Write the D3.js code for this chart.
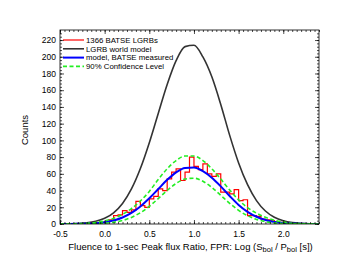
<!DOCTYPE html>
<html>
<head>
<meta charset="utf-8">
<script src="https://cdn.jsdelivr.net/npm/d3@7"></script>
<style>
  body { margin: 0; background: #fff; }
  svg { display: block; font-family: "Liberation Sans", Arial, sans-serif; }
</style>
</head>
<body>
<svg id="chart" width="341" height="264"></svg>
<script>
// DATA

var xGrid = [-0.5, -0.4, -0.3, -0.2, -0.1, 0.0, 0.1, 0.2, 0.3, 0.4, 0.5, 0.6, 0.7, 0.8, 0.9,
	1.0, 1.1, 1.2, 1.3, 1.4, 1.5, 1.6, 1.7, 1.8, 1.9, 2.0, 2.1, 2.2, 2.3, 2.4];

var worldModel = [0.1, 0.2, 0.6, 1.4, 3.2, 6.8, 13.4, 24.6, 41.9, 66.3, 97.2, 132.2, 166.8, 195.3, 212.1,
	213.7, 199.8, 176, 143, 106, 73, 47, 28, 15.5, 8, 3.8, 1.6, 0.7, 0.25, 0.1];

var batseModel = [0.02, 0.06, 0.18, 0.44, 1.0, 2.2, 4.2, 7.8, 13.3, 21, 30.7, 41.8, 52.8, 61.8, 67.1,
	67.6, 63.2, 55.3, 45, 33.5, 22.8, 14.6, 8.7, 4.8, 2.5, 1.2, 0.5, 0.2, 0.08, 0.03];

var confUpper = [0.06, 0.15, 0.37, 0.85, 1.8, 3.6, 6.7, 11.5, 18.5, 27.5, 39, 53.2, 66, 75.9, 81.3,
	81.3, 75.9, 66, 53.7, 40.7, 28.8, 19.5, 13, 8, 4.5, 2.2, 0.9, 0.37, 0.15, 0.06];

var confLower = [0, 0.02, 0.05, 0.15, 0.4, 0.9, 2.1, 4.2, 7.9, 13.5, 21.1, 30.4, 40.1, 48.5, 53.8,
	54.8, 51.1, 43.7, 34.3, 24.7, 16.3, 9.9, 5.5, 2.8, 1.3, 0.6, 0.2, 0.1, 0.03, 0.01];

var binLeft = [-0.20, -0.15, -0.10, -0.05, 0.00, 0.05, 0.10, 0.15, 0.20, 0.25, 0.30, 0.35, 0.40, 0.45,
	0.50, 0.55, 0.60, 0.65, 0.70, 0.75, 0.80, 0.85, 0.90, 0.95, 1.00, 1.05, 1.10, 1.15, 1.20, 1.25,
	1.30, 1.35, 1.40, 1.45, 1.50, 1.55, 1.60, 1.65, 1.70, 1.75, 1.80, 1.85, 1.90, 1.95, 2.00, 2.05];
var binCounts = [0, 1, 1, 2, 3, 5, 10, 11, 16, 14, 17, 27, 22, 20,
	30, 33, 42, 40, 54, 62, 66, 52, 62, 80, 69, 65, 72, 60, 57, 60,
	38, 38, 36, 41, 28, 29, 10, 10, 9, 6, 5, 4, 3, 2, 1, 0];
var binWidth = 0.05;

var xTicks = [-0.5, 0.0, 0.5, 1.0, 1.5, 2.0];
var yTicks = [0, 20, 40, 60, 80, 100, 120, 140, 160, 180, 200, 220];

var legendLabels = ["1366 BATSE LGRBs", "LGRB world model", "model, BATSE measured", "90% Confidence Level"];

// LAYOUT

var svg = d3.select('#chart');
var margin = {left: 60, right: 22, top: 30, bottom: 40};
var width = 341 - margin.left - margin.right;
var height = 264 - margin.top - margin.bottom;

var x = d3.scaleLinear().domain([-0.5, 2.4]).range([0, width]);
var y = d3.scaleLinear().domain([0, 232]).range([height, 0]);

var g = svg.append('g').attr('transform', 'translate(' + margin.left + ',' + margin.top + ')');

g.append('defs').append('clipPath').attr('id', 'clip')
	.append('rect').attr('width', width).attr('height', height);

var plot = g.append('g').attr('clip-path', 'url(#clip)');

function curveData(vals) {
	return xGrid.map(function(d, i) { return [d, vals[i]]; });
}

var line = d3.line()
	.x(function(d) { return x(d[0]); })
	.y(function(d) { return y(d[1]); })
	.curve(d3.curveMonotoneX);

// histogram steps
var steps = binLeft.map(function(d, i) { return [d, binCounts[i]]; });
steps.push([binLeft[binLeft.length - 1] + binWidth, binCounts[binCounts.length - 1]]);
var stepLine = d3.line()
	.x(function(d) { return x(d[0]); })
	.y(function(d) { return y(d[1]); })
	.curve(d3.curveStepAfter);

plot.append('path').attr('d', line(curveData(worldModel)))
	.attr('fill', 'none').attr('stroke', '#333').attr('stroke-width', 1.6);
plot.append('path').attr('d', stepLine(steps))
	.attr('fill', 'none').attr('stroke', '#ff0000').attr('stroke-width', 1.2);
plot.append('path').attr('d', line(curveData(batseModel)))
	.attr('fill', 'none').attr('stroke', '#0000ff').attr('stroke-width', 2);
plot.append('path').attr('d', line(curveData(confUpper)))
	.attr('fill', 'none').attr('stroke', '#22ee22').attr('stroke-width', 1.6).attr('stroke-dasharray', '4,2.5');
plot.append('path').attr('d', line(curveData(confLower)))
	.attr('fill', 'none').attr('stroke', '#22ee22').attr('stroke-width', 1.6).attr('stroke-dasharray', '4,2.5');

// AXES (ticks inward on all four sides)

function fmtX(d) { return d.toFixed(1); }
var xMinor = d3.range(-0.5, 2.4001, 0.05);
var yMinor = d3.range(0, 232, 4);

function addAxis(axis, transform, cls) {
	var a = g.append('g').attr('class', cls).attr('transform', transform).call(axis);
	a.select('.domain').remove();
	a.selectAll('line').attr('stroke', '#000').attr('stroke-width', 0.7);
	a.selectAll('text').attr('fill', '#000').style('font-size', '8.5px');
	return a;
}

addAxis(d3.axisBottom(x).tickValues(xMinor).tickSize(-2).tickFormat(''), 'translate(0,' + height + ')', 'minor');
addAxis(d3.axisTop(x).tickValues(xMinor).tickSize(-2).tickFormat(''), 'translate(0,0)', 'minor');
addAxis(d3.axisLeft(y).tickValues(yMinor).tickSize(-2).tickFormat(''), 'translate(0,0)', 'minor');
addAxis(d3.axisRight(y).tickValues(yMinor).tickSize(-2).tickFormat(''), 'translate(' + width + ',0)', 'minor');

addAxis(d3.axisBottom(x).tickValues(xTicks).tickSize(-4).tickPadding(6.5).tickFormat(fmtX), 'translate(0,' + height + ')', 'major');
addAxis(d3.axisTop(x).tickValues(xTicks).tickSize(-4).tickFormat(''), 'translate(0,0)', 'major');
addAxis(d3.axisLeft(y).tickValues(yTicks).tickSize(-4).tickPadding(4).tickFormat(d3.format('d')), 'translate(0,0)', 'major');
addAxis(d3.axisRight(y).tickValues(yTicks).tickSize(-4).tickFormat(''), 'translate(' + width + ',0)', 'major');

g.append('rect').attr('width', width).attr('height', height)
	.attr('fill', 'none').attr('stroke', '#000').attr('stroke-width', 0.8);

// axis titles
g.append('text')
	.attr('transform', 'translate(-32,' + (height / 2 + 3) + ') rotate(-90)')
	.attr('text-anchor', 'middle')
	.style('font-size', '9.5px')
	.text('Counts');

var xt = g.append('text')
	.attr('x', width / 2 + 1).attr('y', height + 25.5)
	.attr('text-anchor', 'middle')
	.style('font-size', '9.5px');
xt.append('tspan').text('Fluence to 1-sec Peak flux Ratio, FPR: Log (S');
xt.append('tspan').attr('dy', 2.5).style('font-size', '7.5px').text('bol');
xt.append('tspan').attr('dy', -2.5).text(' / P');
xt.append('tspan').attr('dy', 2.5).style('font-size', '7.5px').text('bol');
xt.append('tspan').attr('dy', -2.5).text(' [s])');

// LEGEND
var legendStyles = [
	{stroke: '#ff0000', w: 1.2, dash: null},
	{stroke: '#333', w: 1.6, dash: null},
	{stroke: '#0000ff', w: 2, dash: null},
	{stroke: '#22ee22', w: 1.6, dash: '4,2.5'}
];
var legend = g.append('g').attr('transform', 'translate(3,10)');
legendLabels.forEach(function(label, i) {
	var row = legend.append('g').attr('transform', 'translate(0,' + (i * 8.8) + ')');
	row.append('line').attr('x1', 0).attr('x2', 21).attr('y1', 0).attr('y2', 0)
		.attr('stroke', legendStyles[i].stroke).attr('stroke-width', legendStyles[i].w)
		.attr('stroke-dasharray', legendStyles[i].dash);
	row.append('text').attr('x', 23).attr('y', 2.8)
		.style('font-size', '7.8px').text(label);
});
</script>
</body>
</html>
